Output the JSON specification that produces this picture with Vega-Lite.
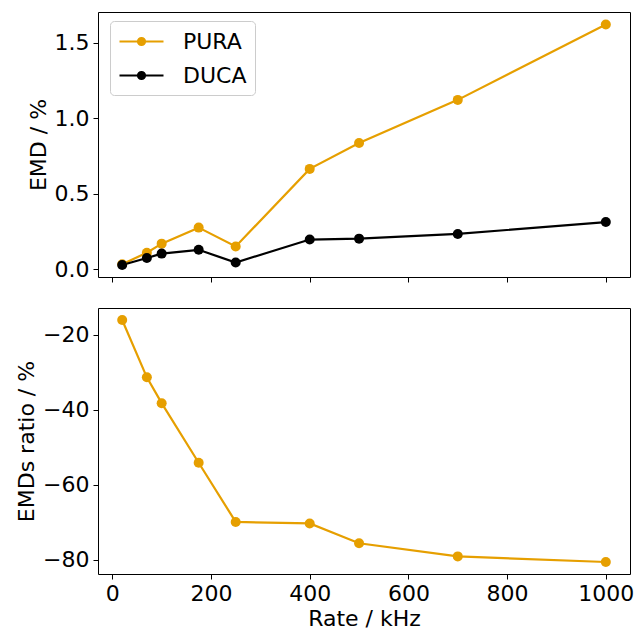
{
  "$schema": "https://vega.github.io/schema/vega-lite/v6.json",
  "padding": {"left": 15, "top": 11, "right": 4, "bottom": 2},
  "config": {
    "font": "DejaVu Sans",
    "view": {"stroke": "black", "strokeWidth": 1},
    "axis": {
      "domain": false, "grid": false,
      "tickColor": "black", "tickWidth": 1, "tickSize": 5,
      "labelPadding": 4, "labelFontSize": 22, "titleFontSize": 22,
      "labelColor": "black", "titleColor": "black", "titleFontWeight": "normal",
      "labelFont": "DejaVu Sans", "titleFont": "DejaVu Sans"
    }
  },
  "datasets": {
    "emd": [
      {"rate": 20, "method": "PURA", "emd": 0.035},
      {"rate": 70, "method": "PURA", "emd": 0.111},
      {"rate": 100, "method": "PURA", "emd": 0.171},
      {"rate": 175, "method": "PURA", "emd": 0.277},
      {"rate": 250, "method": "PURA", "emd": 0.152},
      {"rate": 400, "method": "PURA", "emd": 0.666},
      {"rate": 500, "method": "PURA", "emd": 0.837},
      {"rate": 700, "method": "PURA", "emd": 1.123},
      {"rate": 1000, "method": "PURA", "emd": 1.622},
      {"rate": 20, "method": "DUCA", "emd": 0.0295},
      {"rate": 70, "method": "DUCA", "emd": 0.076},
      {"rate": 100, "method": "DUCA", "emd": 0.105},
      {"rate": 175, "method": "DUCA", "emd": 0.130},
      {"rate": 250, "method": "DUCA", "emd": 0.046},
      {"rate": 400, "method": "DUCA", "emd": 0.198},
      {"rate": 500, "method": "DUCA", "emd": 0.204},
      {"rate": 700, "method": "DUCA", "emd": 0.235},
      {"rate": 1000, "method": "DUCA", "emd": 0.314}
    ],
    "ratio": [
      {"rate": 20, "ratio": -16.0},
      {"rate": 70, "ratio": -31.3},
      {"rate": 100, "ratio": -38.2},
      {"rate": 175, "ratio": -54.1},
      {"rate": 250, "ratio": -69.9},
      {"rate": 400, "ratio": -70.3},
      {"rate": 500, "ratio": -75.6},
      {"rate": 700, "ratio": -79.1},
      {"rate": 1000, "ratio": -80.6}
    ]
  },
  "bounds": "flush",
  "spacing": 31,
  "vconcat": [
    {
      "width": 532,
      "height": 265,
      "data": {"name": "emd"},
      "mark": {"type": "line", "strokeWidth": 2.2, "point": {"filled": true, "size": 100, "opacity": 1}},
      "encoding": {
        "x": {"field": "rate", "type": "quantitative",
              "scale": {"domain": [-29, 1049], "nice": false, "zero": false},
              "axis": {"values": [0, 200, 400, 600, 800, 1000], "labels": false, "title": null}},
        "y": {"field": "emd", "type": "quantitative",
              "scale": {"domain": [-0.05, 1.705], "nice": false, "zero": false},
              "axis": {"values": [0, 0.5, 1, 1.5], "format": ".1f", "title": "EMD / %"}},
        "color": {"field": "method", "type": "nominal",
                  "scale": {"domain": ["PURA", "DUCA"], "range": ["#E69F00", "#000000"]},
                  "legend": {
                    "title": null, "orient": "none", "legendX": 12, "legendY": 9,
                    "padding": 8, "strokeColor": "#cccccc", "fillColor": "rgba(255,255,255,0.8)",
                    "cornerRadius": 4, "labelFontSize": 22, "labelColor": "black", "labelFont": "DejaVu Sans",
                    "symbolType": "M-2,0H2M0.32,0A0.32,0.32,0,1,1,-0.32,0A0.32,0.32,0,1,1,0.32,0Z",
                    "symbolSize": 484, "symbolOffset": 11, "symbolStrokeWidth": 2.2,
                    "labelOffset": 29, "rowPadding": 10,
                    "encode": {"symbols": {"update": {
                      "fill": {"signal": "datum.value === 'PURA' ? '#E69F00' : '#000000'"},
                      "stroke": {"signal": "datum.value === 'PURA' ? '#E69F00' : '#000000'"},
                      "opacity": {"value": 1}
                    }}}
                  }}
      }
    },
    {
      "width": 532,
      "height": 266,
      "data": {"name": "ratio"},
      "mark": {"type": "line", "color": "#E69F00", "strokeWidth": 2.2, "point": {"filled": true, "size": 100, "color": "#E69F00", "opacity": 1}},
      "encoding": {
        "x": {"field": "rate", "type": "quantitative",
              "scale": {"domain": [-29, 1049], "nice": false, "zero": false},
              "axis": {"values": [0, 200, 400, 600, 800, 1000], "format": "d", "title": "Rate / kHz"}},
        "y": {"field": "ratio", "type": "quantitative",
              "scale": {"domain": [-83.8, -12.8], "nice": false, "zero": false},
              "axis": {"values": [-80, -60, -40, -20], "format": "d", "title": "EMDs ratio / %"}}
      }
    }
  ]
}
